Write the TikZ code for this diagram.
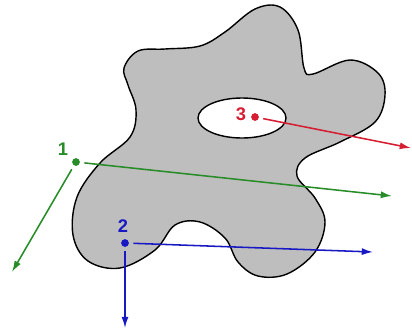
\documentclass[tikz,border=0pt]{standalone}
\usepackage{fontspec}
\setmainfont{Liberation Sans}
\usetikzlibrary{arrows.meta}

\definecolor{ptgreen}{RGB}{40,140,40}
\definecolor{ptred}{RGB}{214,30,50}
\definecolor{ptblue}{RGB}{25,25,195}
\definecolor{blobgray}{RGB}{190,190,190}

\tikzset{
  dot/.style={circle,fill,inner sep=0pt,minimum size=5.5pt},
  ptlabel/.style={font=\fontsize{13}{15}\selectfont\bfseries,inner sep=0pt},
  ray/.style={line width=1.1pt,shorten <=3pt,-{Latex[length=8pt,width=5pt]}}
}

\begin{document}
\begin{tikzpicture}[x=0.025cm,y=-0.025cm]
\useasboundingbox (0,0) rectangle (412,330);

% body with a hole
\draw[fill=blobgray,line width=1pt] plot[smooth cycle,tension=0.6] coordinates {
 (124,68) (138,51) (165,49) (200,46) (225,32) (255,9) (280,7) (298,30) (304,68)
 (313,74) (350,60) (378,73) (385,95) (375,122) (340,142) (305,158) (297,176)
 (315,198) (325,222) (315,252) (287,274) (258,276) (238,262) (225,238) (200,222)
 (175,225) (155,250) (120,268) (88,261) (73,235) (77,197) (100,163) (130,137)
 (136,110) (128,85)};
\draw[fill=white,line width=1pt] (242,118) ellipse (44 and 20);

% points
\node[dot,ptgreen] (p1) at (76,162) {};
\node[dot,ptblue] (p2) at (125,243) {};
\node[dot,ptred] (p3) at (255,117) {};

\node[ptlabel,ptgreen] (l1) at (63,149) {1};
\node[ptlabel,ptblue] (l2) at (123,226) {2};
\node[ptlabel,ptred] (l3) at (241,114) {3};

\coordinate (e1a) at (392,196);
\coordinate (e1b) at (12,272);
\coordinate (e2a) at (373,252);
\coordinate (e2b) at (125,328);
\coordinate (e3a) at (411,148);

\draw[ray,ptgreen] (p1) -- (e1a);
\draw[ray,ptgreen] (p1) -- (e1b);
\draw[ray,ptblue] (p2) -- (e2a);
\draw[ray,ptblue] (p2) -- (e2b);
\draw[ray,ptred] (p3) -- (e3a);

\end{tikzpicture}
\end{document}
